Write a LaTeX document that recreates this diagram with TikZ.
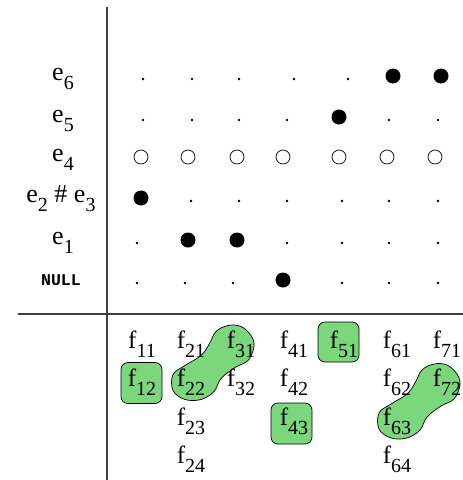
\documentclass[tikz,border=0pt]{standalone}
\usepackage{fontspec}
\setmainfont{Liberation Serif}
\setmonofont{Liberation Mono}
\usetikzlibrary{calc,backgrounds}
\definecolor{pickgreen}{RGB}{124,214,124}
\definecolor{axisgray}{RGB}{64,64,64}
\newcommand{\sublab}[2]{#1\raisebox{-9pt}{\fontsize{20}{20}\selectfont #2}}
\tikzset{
  axisline/.style={draw=axisgray, line width=1.3pt},
  elabel/.style={anchor=base, inner sep=0pt, font=\fontsize{26}{26}\selectfont},
  flabel/.style={inner sep=0pt, font=\fontsize{25}{25}\selectfont},
  pickbox/.style={draw=black, fill=pickgreen, rounded corners=7pt, line width=0.7pt},
  pickblob/.style={draw=black, fill=pickgreen, line width=0.7pt},
  opendot/.style={draw=black, line width=0.7pt},
}

\begin{document}
\begin{tikzpicture}[x=1pt, y=-1pt]
  \useasboundingbox (0,0) rectangle (463,480);

  % axes
  \coordinate (vtop) at (107,7);
  \coordinate (vbot) at (107,480);
  \coordinate (hleft) at (18,314);
  \coordinate (hright) at (463,314);
  \draw[axisline] (vtop) -- (vbot);
  \draw[axisline] (hleft) -- (hright);

  % event labels
  \node[elabel] (e6) at (63,80) {\sublab{e}{6}};
  \node[elabel] (e5) at (63,122) {\sublab{e}{5}};
  \node[elabel] (e4) at (63,161) {\sublab{e}{4}};
  \node[elabel] (e23) at (61,202) {\sublab{e}{2} \# \sublab{e}{3}};
  \node[elabel] (e1) at (63,244) {\sublab{e}{1}};
  \node[elabel, font=\ttfamily\bfseries\fontsize{16.5}{16.5}\selectfont] (null) at (61,285) {NULL};

  % row e6
  \foreach \x in {143,192,239,294,348} \fill (\x,79) circle (1.3);
  \foreach \x in {393,441} \fill (\x,76) circle (7.5);
  % row e5
  \foreach \x in {143,192,239,287,389,438} \fill (\x,120) circle (1.3);
  \fill (339,117) circle (7.5);
  % row e4
  \foreach \x in {141,188,237,283,339,387,435} \draw[opendot] (\x,157) circle (7);
  % row e2 # e3
  \fill (141,198) circle (7.5);
  \foreach \x in {191,239,287,342,389,438} \fill (\x,201) circle (1.3);
  % row e1
  \foreach \x in {188,237} \fill (\x,240) circle (7.5);
  \foreach \x in {137,287,342,389,438} \fill (\x,243) circle (1.3);
  % row NULL
  \fill (283,280) circle (7.5);
  \foreach \x in {137,185,233,342,389,438} \fill (\x,283) circle (1.3);

  % f labels
  \foreach \c/\n/\x in {1/2/142, 2/4/191, 3/2/241, 4/3/294, 5/1/344, 6/4/397, 7/2/447}
    \foreach \r in {1,...,\n}
      \node[flabel] (f\c\r) at (\x,{344+(\r-1)*38.5}) {\sublab{f}{\c\r}};

  % picked sets
  \begin{scope}[on background layer]
    \draw[pickbox] ($(f12)+(-21,-20)$) rectangle ($(f12)+(20,21)$);
    \draw[pickbox] ($(f43)+(-23,-18)$) rectangle ($(f43)+(18,23)$);
    \draw[pickbox] ($(f51)+(-26,-22)$) rectangle ($(f51)+(15,18)$);
    \foreach \b in {f22,f63}
      \draw[pickblob, shift={(\b)}] plot[smooth cycle, tension=0.6] coordinates {
        (37,-57) (50,-56) (60,-47) (63,-36) (57,-22) (44,-15)
        (30,-4) (23,9) (10,17) (-6,17) (-18,8) (-18,-8)
        (-6,-17) (10,-27) (18,-38) (25,-51)};
  \end{scope}
\end{tikzpicture}
\end{document}
